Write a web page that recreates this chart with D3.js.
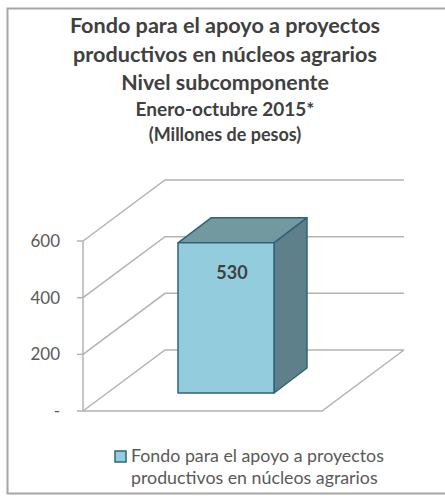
<!DOCTYPE html>
<html>
<head>
<meta charset="utf-8">
<script src="https://d3js.org/d3.v7.min.js"></script>
<style>
  html, body { margin: 0; padding: 0; background: #fff; }
  svg { display: block; }
  text { font-family: Lato, "Open Sans", sans-serif; }
</style>
</head>
<body>
<script>
var categories = ["Fondo para el apoyo a proyectos productivos en núcleos agrarios"];
var values = [530];
var yTicks = [0, 200, 400, 600];
var titleLines = [
  "Fondo para el apoyo a proyectos",
  "productivos en núcleos agrarios",
  "Nivel subcomponente",
  "Enero-octubre 2015*",
  "(Millones de pesos)"
];
var legendLines = ["Fondo para el apoyo a proyectos", "productivos en núcleos agrarios"];

var width = 445, height = 496;
var depthX = 82, depthY = 61;
var barDepthX = 33, barDepthY = 25;

var svg = d3.select("body").append("svg")
  .attr("width", width)
  .attr("height", height);

// frame of the pasted chart
svg.append("path")
  .attr("d", "M445,8.5H7.5V493.5H445")
  .attr("fill", "none")
  .attr("stroke", "#a6a6a6")
  .attr("stroke-width", 2);

// title
var titleY = [33, 62, 90, 116, 141];
var titleSize = [21.6, 21.6, 21.4, 19, 18];
svg.selectAll(".title")
  .data(titleLines)
  .enter().append("text")
  .attr("class", "title")
  .attr("x", 225)
  .attr("y", function(d, i) { return titleY[i]; })
  .attr("text-anchor", "middle")
  .attr("font-weight", 700)
  .attr("font-size", function(d, i) { return titleSize[i]; })
  .attr("fill", "#404040")
  .text(function(d) { return d; });

var y = d3.scaleLinear().domain([0, 600]).range([411, 241]);
var x = d3.scaleBand().domain(categories).range([130, 322]).paddingInner(0).paddingOuter(0.5);

var grid = svg.append("g").attr("fill", "none").attr("stroke", "#b3b3b3").attr("stroke-width", 1.5);

// gridlines: side wall then back wall
grid.selectAll(".grid")
  .data(yTicks)
  .enter().append("path")
  .attr("class", "grid")
  .attr("d", function(d) {
    return "M83," + y(d) + "L" + (83 + depthX) + "," + (y(d) - depthY) + "H404";
  });

// floor and front axis
grid.append("path")
  .attr("d", "M83," + y(0) + "H322L404," + (y(0) - depthY));
grid.append("path")
  .attr("d", "M83," + y(600) + "V" + y(0));

// tick marks
grid.selectAll(".tick")
  .data(yTicks)
  .enter().append("line")
  .attr("class", "tick")
  .attr("x1", 77)
  .attr("x2", 83)
  .attr("y1", function(d) { return y(d); })
  .attr("y2", function(d) { return y(d); });

svg.selectAll(".ylabel")
  .data(yTicks)
  .enter().append("text")
  .attr("class", "ylabel")
  .attr("x", 60)
  .attr("y", function(d) { return y(d) + 6; })
  .attr("text-anchor", "end")
  .attr("font-size", 17)
  .attr("fill", "#595959")
  .text(function(d) { return d === 0 ? "-" : d; });

// bar, sitting a little forward of the back wall
var baseY = 393;
var bar = svg.selectAll(".bar")
  .data(values)
  .enter().append("g")
  .attr("class", "bar")
  .attr("stroke", "#2f6478")
  .attr("stroke-width", 1.5)
  .attr("stroke-linejoin", "round");

var barLeft = x(categories[0]);
var barRight = barLeft + x.bandwidth();

bar.append("path")
  .attr("fill", "#72999f")
  .attr("d", function(d) {
    var top = baseY - (y(0) - y(d));
    return "M" + barLeft + "," + top + "l" + barDepthX + "," + (-barDepthY) +
      "H" + (barRight + barDepthX) + "l" + (-barDepthX) + "," + barDepthY + "Z";
  });

bar.append("path")
  .attr("fill", "#5d808a")
  .attr("d", function(d) {
    var top = baseY - (y(0) - y(d));
    return "M" + barRight + "," + top + "l" + barDepthX + "," + (-barDepthY) +
      "V" + (baseY - barDepthY) + "l" + (-barDepthX) + "," + barDepthY + "Z";
  });

bar.append("rect")
  .attr("fill", "#93cddd")
  .attr("x", barLeft)
  .attr("width", x.bandwidth())
  .attr("y", function(d) { return baseY - (y(0) - y(d)); })
  .attr("height", function(d) { return y(0) - y(d); });

svg.selectAll(".barlabel")
  .data(values)
  .enter().append("text")
  .attr("class", "barlabel")
  .attr("x", (barLeft + barRight) / 2 + 6)
  .attr("y", 279)
  .attr("text-anchor", "middle")
  .attr("font-size", 18)
  .attr("font-weight", 700)
  .attr("fill", "#404040")
  .text(function(d) { return d; });

// legend
svg.append("rect")
  .attr("x", 115)
  .attr("y", 451)
  .attr("width", 11)
  .attr("height", 11)
  .attr("fill", "#93cddd")
  .attr("stroke", "#2f6478")
  .attr("stroke-width", 1.5);

svg.selectAll(".legend")
  .data(legendLines)
  .enter().append("text")
  .attr("class", "legend")
  .attr("x", 131)
  .attr("y", function(d, i) { return 462 + i * 22; })
  .attr("font-size", 17.8)
  .attr("fill", "#595959")
  .text(function(d) { return d; });
</script>
</body>
</html>
